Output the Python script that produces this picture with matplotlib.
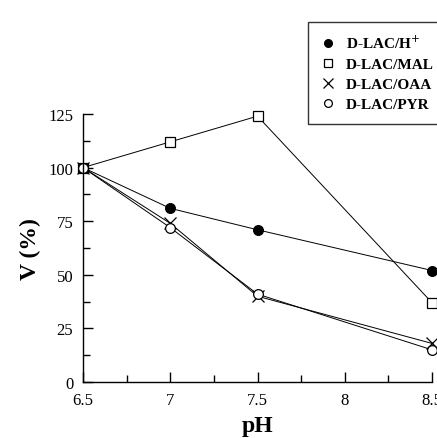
import matplotlib.pyplot as plt
from matplotlib.ticker import MultipleLocator

ph = [6.5, 7, 7.5, 8.5]
v_h = [100, 81, 71, 52]
v_mal = [100, 112, 124, 37]
v_oaa = [100, 74, 40, 18]
v_pyr = [100, 72, 41, 15]

plt.rcParams['font.family'] = ['Liberation Serif', 'DejaVu Serif']

fig = plt.figure(figsize=(4.37, 4.39), dpi=100)
ax = fig.add_axes([83/437, 1 - 383/439, (432 - 83)/437, (383 - 115)/439])

kw = dict(color='black', lw=0.7, markersize=7, clip_on=False, mew=0.9)
ax.plot(ph, v_h, marker='o', mfc='black', label='D-LAC/H$^{+}$', **kw)
ax.plot(ph, v_mal, marker='s', mfc='white', label='D-LAC/MAL', **kw)
ax.plot(ph, v_oaa, marker='x', mfc='white', label='D-LAC/OAA', markersize=9,
        color='black', lw=0.7, clip_on=False, mew=0.9)
ax.plot(ph, v_pyr, marker='o', mfc='white', label='D-LAC/PYR', **kw)

ax.set_xlim(6.5, 8.5)
ax.set_ylim(0, 125)
ax.xaxis.set_minor_locator(MultipleLocator(0.25))
ax.yaxis.set_major_locator(MultipleLocator(25))
ax.yaxis.set_minor_locator(MultipleLocator(12.5))
ax.set_xticks([6.5, 7, 7.5, 8, 8.5])
ax.set_xticklabels(['6.5', '7', '7.5', '8', '8.5'])
ax.tick_params(which='major', direction='in', length=7.5, width=1, labelsize=12)
ax.tick_params(which='minor', direction='in', length=5, width=1)
ax.tick_params(axis='x', pad=7)
ax.tick_params(axis='y', pad=7)
for s in ['top', 'right']:
    ax.spines[s].set_visible(False)
for s in ['left', 'bottom']:
    ax.spines[s].set_linewidth(1)

ax.set_xlabel('pH', fontsize=17, fontweight='bold', labelpad=5)
ax.set_ylabel('V (%)', fontsize=17, fontweight='bold', labelpad=5)

leg = fig.legend(loc='upper left', bbox_to_anchor=(300/437, 1 - 15/439),
                 frameon=True, fancybox=False, edgecolor='black',
                 prop={'weight': 'bold', 'size': 11}, handlelength=1.0,
                 handletextpad=0.7, borderpad=0.8, labelspacing=0.42,
                 markerscale=0.8)
leg.get_frame().set_linewidth(1)
for h in leg.legend_handles:
    h.set_linestyle('none')

fig.savefig('out.png', dpi=100)
